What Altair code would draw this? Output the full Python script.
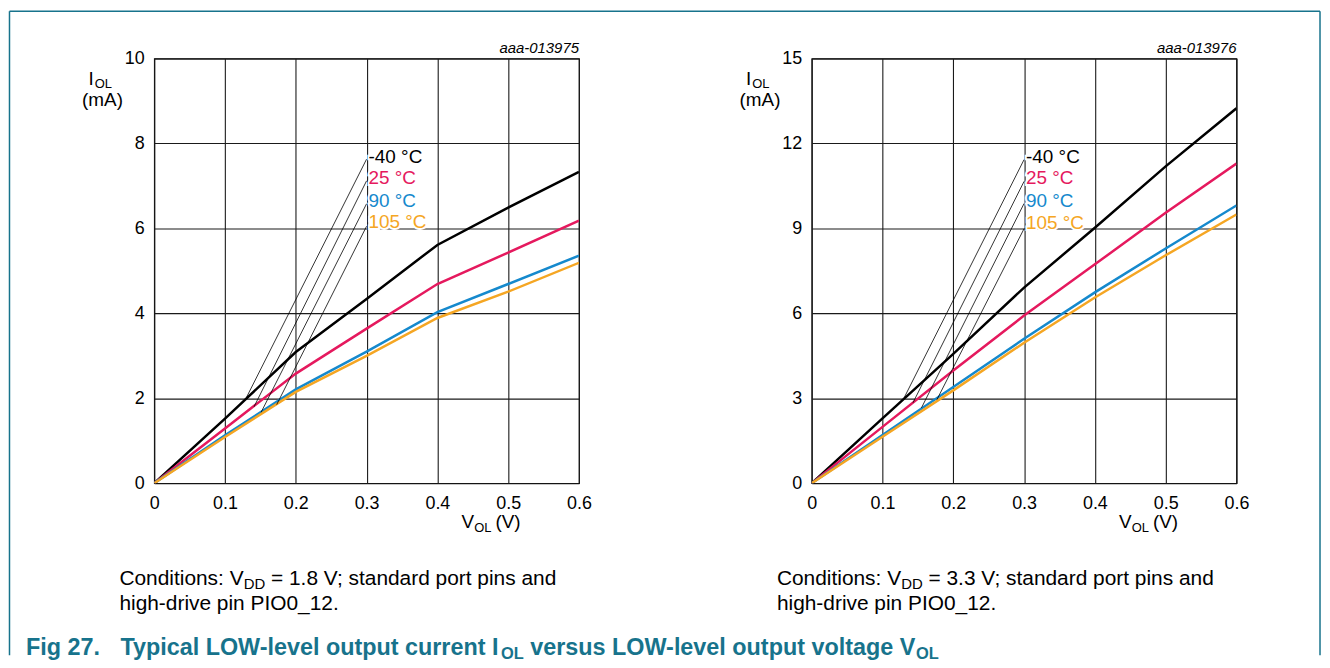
import altair as alt
import pandas as pd

FONT = "Liberation Sans"

# ---------------- data ----------------
VOL = [0, 0.1, 0.2, 0.3, 0.4, 0.5, 0.6]
TEMPS = ["-40 °C", "25 °C", "90 °C", "105 °C"]
COLORS = ["#000000", "#E5195E", "#1589CD", "#F5A623"]

# left panel (VDD = 1.8 V), IOL in mA
L_M40 = [0, 1.52, 3.09, 4.34, 5.61, 6.49, 7.33]
L_25 = [0, 1.29, 2.58, 3.64, 4.69, 5.43, 6.18]
L_90 = [0, 1.13, 2.21, 3.10, 4.03, 4.69, 5.36]
L_105 = [0, 1.09, 2.15, 3.00, 3.89, 4.51, 5.19]

# right panel (VDD = 3.3 V), IOL in mA
R_M40 = [0, 2.29, 4.57, 6.91, 9.02, 11.19, 13.24]
R_25 = [0, 1.99, 3.98, 5.92, 7.73, 9.55, 11.29]
R_90 = [0, 1.70, 3.40, 5.10, 6.74, 8.29, 9.81]
R_105 = [0, 1.64, 3.28, 4.96, 6.56, 8.05, 9.49]

LABEL_X = 0.3
L_LABEL_Y = [7.68, 7.19, 6.65, 6.16]
L_LEAD_TOP_Y = [7.63, 7.12, 6.58, 6.05]
L_LEAD_END_X = [0.13, 0.141, 0.151, 0.173]
L_LEAD_END_Y = [2.01, 1.80, 1.67, 1.85]

R_LABEL_Y = [11.52, 10.78, 9.95, 9.20]
R_LEAD_TOP_Y = [11.43, 10.66, 9.88, 8.99]
R_LEAD_END_X = [0.13, 0.143, 0.155, 0.177]
R_LEAD_END_Y = [2.99, 2.84, 2.66, 2.96]

L_YTICKS = [0, 2, 4, 6, 8, 10]
R_YTICKS = [0, 3, 6, 9, 12, 15]

CODES = ["aaa-013975", "aaa-013976"]
VDD_VALUES = ["1.8", "3.3"]
COND_A = "Conditions: V"
COND_SUB = "DD"
COND_B = " = {} V; standard port pins and"
COND_LINE2 = "high-drive pin PIO0_12."
FIG_NUM = "Fig 27."
CAP_A = "Typical LOW-level output current I"
CAP_SUB = "OL"
CAP_B = " versus LOW-level output voltage V"

TEAL = "#17738C"

# ---------------- text metrics (Arial / Liberation Sans) ----------------
W_REG = {" ": 278, "(": 333, ")": 333, "-": 333, ".": 278, ":": 278, ";": 278, "=": 584,
         "_": 556, "A": 667, "C": 722, "D": 722, "I": 278, "L": 556, "O": 778, "P": 667,
         "V": 667, "W": 944, "a": 556, "c": 500, "d": 556, "e": 556, "g": 556, "h": 556,
         "i": 222, "l": 222, "m": 833, "n": 556, "o": 556, "p": 556, "r": 333, "s": 500,
         "t": 278, "u": 556, "v": 500, "y": 500}
W_BOLD = {" ": 278, "-": 333, ".": 278, "F": 611, "I": 278, "L": 611, "O": 778, "T": 611,
          "V": 667, "W": 944, "a": 556, "c": 556, "e": 556, "g": 611, "i": 278, "l": 278,
          "n": 611, "o": 611, "p": 611, "r": 389, "s": 556, "t": 333, "u": 611, "v": 556,
          "y": 556}


def tw(s, size, bold=False):
    table = W_BOLD if bold else W_REG
    return sum(table.get(ch, 556) for ch in s) * size / 1000.0


def txt(s, x, y, size, bold=False, italic=False, color="black", align="left"):
    # SVG collapses leading blanks: shift instead
    lead = len(s) - len(s.lstrip(" "))
    if lead and align == "left":
        x = x + tw(" " * lead, size, bold)
    s = s.strip(" ")
    return alt.Chart(pd.DataFrame({"s": [s]})).mark_text(
        align=align, baseline="alphabetic", font=FONT, fontSize=size,
        fontWeight="bold" if bold else "normal",
        fontStyle="italic" if italic else "normal", color=color,
    ).encode(x=alt.value(x), y=alt.value(y), text="s:N")


def rule(x, y, x2=None, y2=None):
    enc = {"x": alt.value(x), "y": alt.value(y)}
    if x2 is not None:
        enc["x2"] = alt.value(x2)
    if y2 is not None:
        enc["y2"] = alt.value(y2)
    return alt.Chart(pd.DataFrame({"k": [0]})).mark_rule(
        color=TEAL, strokeWidth=1.5).encode(**enc)


W = 427
H = 427
TICK_FS = 18
LAB_FS = 19
TITLE_FS = 19
TITLE_SUB = 13
COND_FS = 21
COND_SUB_FS = 15
CAP_FS = 23.5
CAP_SUB_FS = 16.5
CODE_FS = 15


def panel(series, ymax, yticks, label_y, lead_top, lead_x, lead_y, code, vdd):
    rows = []
    for t, ys in zip(TEMPS, series):
        for v, i in zip(VOL, ys):
            rows.append({"v": v, "i": i, "t": t})
    df = pd.DataFrame(rows)

    xs = alt.Scale(domain=[0, 0.6], nice=False, zero=False)
    ysc = alt.Scale(domain=[0, ymax], nice=False)
    xax = alt.Axis(values=VOL, format="~g", grid=True, ticks=False, domain=False,
                   labelFlush=False, labelPadding=11, labelFont=FONT,
                   labelFontSize=TICK_FS, labelColor="black", gridColor="#1a1a1a",
                   gridWidth=1.1, title=None)
    yax = alt.Axis(values=yticks, format="d", grid=True, ticks=False, domain=False,
                   labelFlush=False, labelPadding=10, labelFont=FONT,
                   labelFontSize=TICK_FS, labelColor="black", gridColor="#1a1a1a",
                   gridWidth=1.1, title=None)
    color = alt.Color("t:N", scale=alt.Scale(domain=TEMPS, range=COLORS), legend=None)

    base = alt.Chart(df).mark_line(strokeWidth=2.5, clip=True).encode(
        x=alt.X("v:Q", scale=xs, axis=xax),
        y=alt.Y("i:Q", scale=ysc, axis=yax),
        color=color,
        detail="t:N",
        order="v:Q",
    )

    lrows = []
    for k in range(4):
        lrows.append({"g": k, "x": LABEL_X, "y": lead_top[k], "o": 0})
        lrows.append({"g": k, "x": lead_x[k], "y": lead_y[k], "o": 1})
    leaders = alt.Chart(pd.DataFrame(lrows)).mark_line(
        color="black", strokeWidth=0.8).encode(
        x=alt.X("x:Q", scale=xs, axis=xax), y=alt.Y("y:Q", scale=ysc, axis=yax),
        detail="g:N", order="o:Q")

    ldf = pd.DataFrame({"t": TEMPS, "x": [LABEL_X] * 4, "y": label_y})
    halo = alt.Chart(ldf).mark_text(
        align="left", baseline="middle", dx=2, font=FONT, fontSize=LAB_FS,
        stroke="white", strokeWidth=4, fill="white").encode(
        x=alt.X("x:Q", scale=xs, axis=xax), y=alt.Y("y:Q", scale=ysc, axis=yax),
        text="t:N")
    labels = alt.Chart(ldf).mark_text(
        align="left", baseline="middle", dx=2, font=FONT, fontSize=LAB_FS).encode(
        x=alt.X("x:Q", scale=xs, axis=xax), y=alt.Y("y:Q", scale=ysc, axis=yax),
        text="t:N", color=color)

    # axis titles and notes (pixel positions relative to plot origin)
    ix = -66
    ytitle = [
        txt("I", ix, 27, TITLE_FS),
        txt("OL", ix + tw("I", TITLE_FS) + 1, 30, TITLE_SUB),
        txt("(mA)", -52, 48, TITLE_FS, align="center"),
    ]
    vx = 309
    xtitle = [
        txt("V", vx, 472, TITLE_FS),
        txt("OL", vx + tw("V", TITLE_FS), 476, TITLE_SUB),
        txt("(V)", vx + tw("V", TITLE_FS) + tw("OL", TITLE_SUB) + 4, 472, TITLE_FS),
    ]
    cx = -35
    cb = COND_B.format(vdd)
    cond = [
        txt(COND_A, cx, 529, COND_FS),
        txt(COND_SUB, cx + tw(COND_A, COND_FS), 533, COND_SUB_FS),
        txt(cb, cx + tw(COND_A, COND_FS) + tw(COND_SUB, COND_SUB_FS), 529, COND_FS),
        txt(COND_LINE2, cx, 554, COND_FS),
    ]
    code_t = txt(code, W, -6, CODE_FS, italic=True, align="right")

    return [base, leaders, halo, labels, code_t] + ytitle + xtitle + cond


left_layers = panel([L_M40, L_25, L_90, L_105], 10, L_YTICKS, L_LABEL_Y, L_LEAD_TOP_Y,
                    L_LEAD_END_X, L_LEAD_END_Y, CODES[0], VDD_VALUES[0])
right_layers = panel([R_M40, R_25, R_90, R_105], 15, R_YTICKS, R_LABEL_Y, R_LEAD_TOP_Y,
                     R_LEAD_END_X, R_LEAD_END_Y, CODES[1], VDD_VALUES[1])

# frame + caption (drawn in left panel coordinates, origin at page (154, 58))
FL, FT, FR, FB = -145.5, -47.5, 1172, 600
frame = [rule(FL, FT, x2=FR), rule(FL, FT, y2=FB), rule(FR, FT, y2=FB)]
capx = -34
cap_y = 600
caption = [
    txt(FIG_NUM, -129, cap_y, CAP_FS, bold=True, color=TEAL),
    txt(CAP_A, capx, cap_y, CAP_FS, bold=True, color=TEAL),
    txt(CAP_SUB, capx + tw(CAP_A, CAP_FS, True), cap_y + 4, CAP_SUB_FS, bold=True,
        color=TEAL),
    txt(CAP_B, capx + tw(CAP_A, CAP_FS, True) + tw(CAP_SUB, CAP_SUB_FS, True), cap_y,
        CAP_FS, bold=True, color=TEAL),
]
capb_end = (capx + tw(CAP_A, CAP_FS, True) + tw(CAP_SUB, CAP_SUB_FS, True)
            + tw(CAP_B, CAP_FS, True))
caption.append(txt(CAP_SUB, capb_end, cap_y + 4, CAP_SUB_FS, bold=True, color=TEAL))

left = alt.layer(*(left_layers + frame + caption)).properties(width=W, height=H)
right = alt.layer(*right_layers).properties(width=W, height=H)

chart = alt.hconcat(left, right, spacing=234, bounds="flush").properties(
    padding=0, background="white"
).configure_view(stroke="black", strokeWidth=1.2)

chart.save("out.html", embed_options={"renderer": "svg", "actions": False})
